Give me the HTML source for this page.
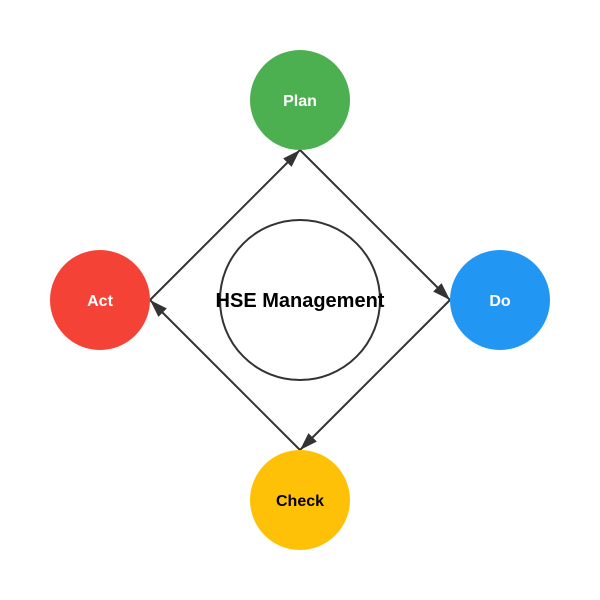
<!DOCTYPE html>
<html><head><meta charset="utf-8"><style>
html,body{margin:0;padding:0;background:#fff;}
svg{display:block;}
text{font-family:"Liberation Sans",Arial,sans-serif;font-weight:bold;}
</style></head><body>
<svg width="600" height="600" viewBox="0 0 600 600" xmlns="http://www.w3.org/2000/svg">
<defs>
<marker id="a" markerUnits="userSpaceOnUse" markerWidth="20" markerHeight="14" refX="18" refY="7" orient="auto">
<path d="M0,1 L18,7 L0,13 Z" fill="#333"/>
</marker>
</defs>
<circle cx="300" cy="300" r="80" fill="#fff" stroke="#333" stroke-width="2"/>
<line x1="300" y1="150" x2="450" y2="300" stroke="#333" stroke-width="2" marker-end="url(#a)"/>
<line x1="450" y1="300" x2="300" y2="450" stroke="#333" stroke-width="2" marker-end="url(#a)"/>
<line x1="300" y1="450" x2="150" y2="300" stroke="#333" stroke-width="2" marker-end="url(#a)"/>
<line x1="150" y1="300" x2="300" y2="150" stroke="#333" stroke-width="2" marker-end="url(#a)"/>
<circle cx="300" cy="100" r="50" fill="#4CAF50"/>
<circle cx="500" cy="300" r="50" fill="#2196F3"/>
<circle cx="300" cy="500" r="50" fill="#FFC107"/>
<circle cx="100" cy="300" r="50" fill="#F44336"/>
<text x="300" y="106" text-anchor="middle" font-size="16" fill="#fff">Plan</text>
<text x="500" y="306" text-anchor="middle" font-size="16" fill="#fff">Do</text>
<text x="300" y="506" text-anchor="middle" font-size="16" fill="#000">Check</text>
<text x="100" y="306" text-anchor="middle" font-size="16" fill="#fff">Act</text>
<text x="300" y="307" text-anchor="middle" font-size="20" fill="#000">HSE Management</text>
</svg>
</body></html>
